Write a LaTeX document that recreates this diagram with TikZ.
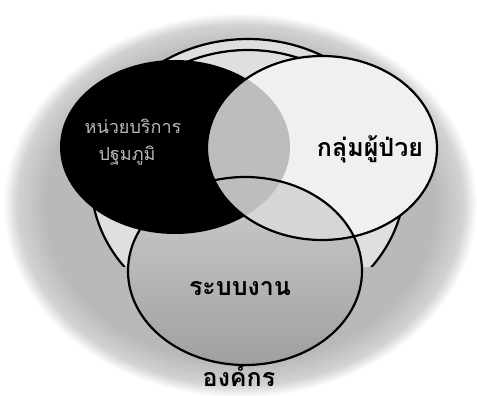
\documentclass[tikz,border=0pt]{standalone}
\usepackage{fontspec}
\newfontfamily\thai[Script=Thai]{Loma}
\colorlet{bgc}{gray!55}
\pgfdeclareradialshading{outerbg}{\pgfpoint{0bp}{0bp}}{color(0bp)=(bgc); color(20.5bp)=(bgc); color(23.5bp)=(gray!35); color(25bp)=(white)}
\tikzset{
  ring/.style={line width=2.2pt, draw=black},
  lbl/.style={font=\thai\bfseries\fontsize{25}{28}\selectfont, text=black, inner sep=0pt, anchor=base},
  wlbl/.style={font=\thai\fontsize{18}{21}\selectfont, text=gray!55, inner sep=0pt, anchor=base}
}
\def\blackell{(175,147) ellipse [x radius=115pt, y radius=87pt]}
\def\whiteell{(322,148) ellipse [x radius=115pt, y radius=92pt]}
\def\botell{(245,271) ellipse [x radius=117pt, y radius=94pt]}
\begin{document}
\begin{tikzpicture}[x=1pt,y=-1pt]
\useasboundingbox (0,0) rectangle (477,396);
% outer background ellipse
\shade[shading=outerbg] (240,205) ellipse [x radius=237pt, y radius=192pt];
% back shape (organisation ring), cut off below
\begin{scope}
  \clip (0,0) rectangle (477,266);
  \fill[gray!25] (248,180) ellipse [x radius=157pt, y radius=141pt];
  \draw[ring] (248,180) ellipse [x radius=157pt, y radius=141pt];
  \draw[ring] plot[domain=60:120, samples=40] ({248+146*cos(\x)}, {180-130*sin(\x)});
\end{scope}
% bottom circle (work system)
\shade[top color=gray!38, bottom color=gray!75] \botell;
% black circle (service unit)
\fill[black] \blackell;
% white circle (patients)
\fill[gray!12] \whiteell;
\begin{scope}
  \clip \whiteell;
  \fill[gray!32] \botell;
\end{scope}
\begin{scope}
  \clip \blackell;
  \fill[gray!52] \whiteell;
\end{scope}
% outlines
\draw[ring] \whiteell;
\draw[ring] \botell;
% labels
\node[wlbl] (unit1) at (133,133) {หน่วยบริการ};
\node[wlbl] (unit2) at (127,160) {ปฐมภูมิ};
\node[lbl] (patients) at (370,157) {กลุ่มผู้ป่วย};
\node[lbl] (system) at (240,295) {ระบบงาน};
\node[lbl] (org) at (239,386) {องค์กร};
\end{tikzpicture}
\end{document}
